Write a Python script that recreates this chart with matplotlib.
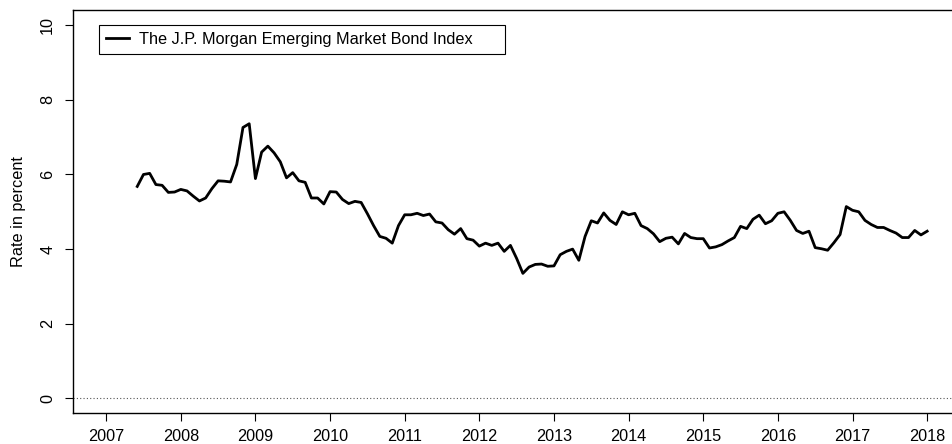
import numpy as np
import matplotlib
matplotlib.use("Agg")
import matplotlib.pyplot as plt

# monthly series, June 2007 .. January 2018
start_year = 2007
start_month = 6
embi = [5.68, 6.00, 6.03, 5.73, 5.71, 5.52, 5.53, 5.60, 5.56, 5.42,
        5.29, 5.37, 5.62, 5.83, 5.82, 5.80, 6.27, 7.26, 7.36, 5.89,
        6.60, 6.76, 6.58, 6.34, 5.91, 6.05, 5.83, 5.79, 5.37, 5.37,
        5.21, 5.54, 5.53, 5.33, 5.22, 5.28, 5.25, 4.95, 4.63, 4.34,
        4.29, 4.16, 4.63, 4.92, 4.92, 4.96, 4.90, 4.94, 4.73, 4.70,
        4.52, 4.40, 4.55, 4.28, 4.24, 4.08, 4.16, 4.10, 4.16, 3.94,
        4.10, 3.75, 3.35, 3.52, 3.59, 3.60, 3.54, 3.55, 3.85, 3.94,
        4.00, 3.70, 4.34, 4.76, 4.70, 4.97, 4.77, 4.66, 5.00, 4.92,
        4.96, 4.63, 4.55, 4.41, 4.20, 4.29, 4.32, 4.14, 4.42, 4.31,
        4.28, 4.28, 4.03, 4.06, 4.12, 4.22, 4.31, 4.61, 4.55, 4.80,
        4.91, 4.68, 4.76, 4.96, 5.00, 4.77, 4.50, 4.42, 4.48, 4.04,
        4.01, 3.97, 4.17, 4.39, 5.14, 5.04, 5.00, 4.77, 4.66, 4.58,
        4.58, 4.50, 4.43, 4.31, 4.31, 4.50, 4.38, 4.48]
year_ticks = list(range(2007, 2019))
y_ticks = [0, 2, 4, 6, 8, 10]
series_label = "The J.P. Morgan Emerging Market Bond Index"

plt.rcParams['font.family'] = ['Liberation Sans', 'DejaVu Sans']
fs = 11.7

t = start_year + (start_month - 1 + np.arange(len(embi))) / 12.0

W, H = 952, 444
fig = plt.figure(figsize=(W / 100, H / 100), dpi=100)
# axes box in pixels (right edge falls just outside the image, like the original)
left, right, top, bottom = 73.3, 960.0, 10.3, 413.3
ax = fig.add_axes([left / W, 1 - bottom / H, (right - left) / W, (bottom - top) / H])

ax.axhline(0, color='#555555', lw=0.8, ls=(0, (1, 2)))
ax.plot(t, embi, color='black', lw=2.0, label=series_label)

ax.set_xlim(2006.56, 2018.44)
ax.set_ylim(-0.4, 10.4)
ax.set_xticks(year_ticks)
ax.set_yticks(y_ticks)
ax.set_yticklabels([str(v) for v in y_ticks], rotation=90, va='center')
ax.tick_params(direction='out', length=6, width=0.8, labelsize=fs, color='black')
ax.tick_params(axis='x', pad=5)
ax.tick_params(axis='y', pad=7)
for s in ax.spines.values():
    s.set_linewidth(1.0)
ax.set_ylabel("Rate in percent", fontsize=fs, labelpad=10)

x0 = (99.3 - left) / (right - left)
y0 = (bottom - 25.0) / (bottom - top)
w = (505.3 - 99.3) / (right - left)
leg = ax.legend(loc='upper left', bbox_to_anchor=(x0, y0, w, 0), mode='expand',
                borderaxespad=0, fancybox=False, edgecolor='black', framealpha=1,
                fontsize=fs, handlelength=1.4, handletextpad=0.65, borderpad=0.42)
leg.get_frame().set_linewidth(0.8)

fig.savefig('out.png', dpi=100)
